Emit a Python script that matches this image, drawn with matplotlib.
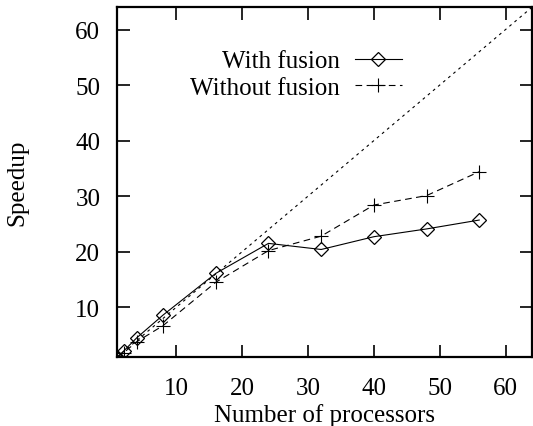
import matplotlib
matplotlib.use("Agg")
import matplotlib.pyplot as plt

procs = [1, 2, 4, 8, 16, 24, 32, 40, 48, 56]
with_fusion = [1.0, 2.1, 4.5, 8.6, 16.1, 21.5, 20.4, 22.7, 24.1, 25.7]
without_fusion = [1.0, 1.8, 3.8, 6.7, 14.5, 20.2, 22.8, 28.4, 30.1, 34.4]
ideal = [1, 64]
xticks = [10, 20, 30, 40, 50, 60]
yticks = [10, 20, 30, 40, 50, 60]

plt.rcParams['font.family'] = ['Liberation Serif', 'DejaVu Serif']
plt.rcParams['font.size'] = 18

fig = plt.figure(figsize=(5.33, 4.27), dpi=100)
ax = fig.add_axes([0.2195, 0.161, 0.7785, 0.8196])

ax.plot(ideal, ideal, color='black', lw=0.8, linestyle=(0, (2.5, 3.5)))
ax.plot(procs, with_fusion, color='black', lw=0.8, marker='D', markersize=7.5,
        fillstyle='none', markeredgewidth=0.9, label='With fusion')
ax.plot(procs, without_fusion, color='black', lw=0.8, linestyle=(0, (6, 4)),
        marker='+', markersize=10, markeredgewidth=0.8, label='Without fusion')

ax.set_xlim(1, 64)
ax.set_ylim(1, 64)
ax.set_xticks(xticks)
ax.set_yticks(yticks)
ax.tick_params(direction='in', length=9, width=1.2, top=True, right=True)
ax.tick_params(axis='y', pad=12)
ax.tick_params(axis='x', pad=14)
for s in ax.spines.values():
    s.set_linewidth(1.6)

ax.set_xlabel('Number of processors', labelpad=3)
ax.yaxis.set_label_coords(-0.213, 0.5)
ax.set_ylabel('Speedup')

ax.legend(loc='upper right', bbox_to_anchor=(0.687, 0.878), markerfirst=False,
          frameon=False, handlelength=1.9, handletextpad=0.6, labelspacing=0.15,
          borderpad=0, borderaxespad=0)

fig.savefig('out.png', dpi=100)
